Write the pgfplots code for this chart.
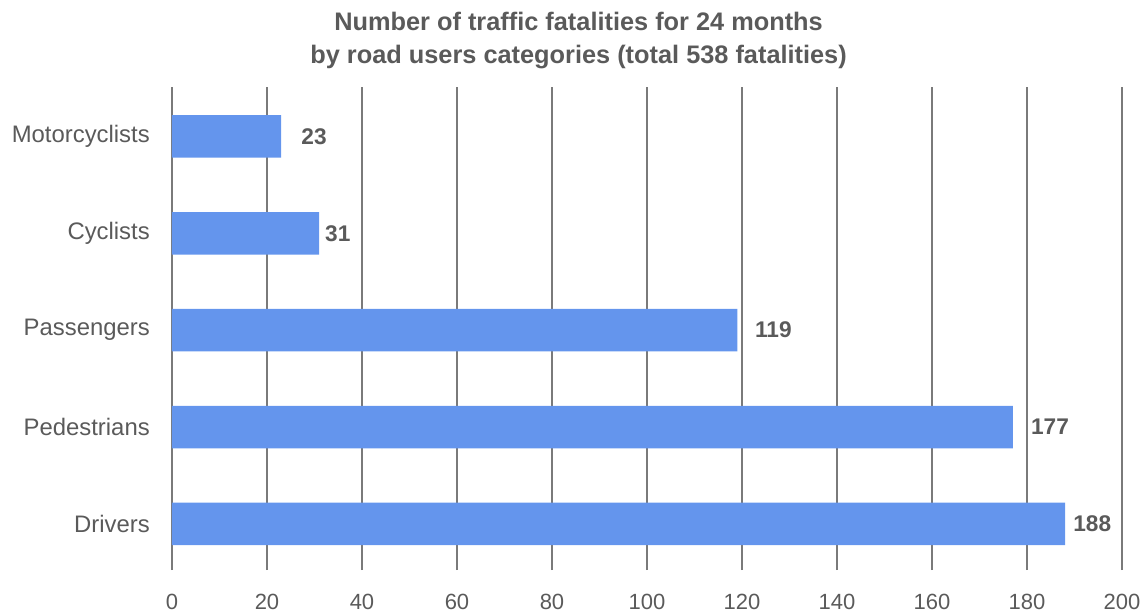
\documentclass[border=0pt]{standalone}
\usepackage{pgfplots}
\pgfplotsset{compat=1.18}
\usepackage{fontspec}
\setmainfont{Liberation Sans}
\definecolor{barblue}{HTML}{6495ED}
\definecolor{txt}{HTML}{5A5A5A}
\definecolor{gridc}{HTML}{7A7A7A}
\begin{document}
\begin{tikzpicture}
\begin{axis}[
  scale only axis,
  width=712.5pt, height=362.25pt,
  xmin=0, xmax=200,
  ymin=-0.475, ymax=4.51,
  xtick={0,20,...,200},
  ytick={0,1,2,3,4},
  yticklabels={Drivers,Pedestrians,Passengers,Cyclists,Motorcyclists},
  axis line style={draw=none},
  major tick length=0pt,
  xmajorgrids,
  grid style={gridc, line width=1.1pt},
  tick label style={font=\fontsize{16.5}{19}\selectfont, text=txt},
  /pgf/number format/assume math mode=true,
  yticklabel style={inner sep=0pt, anchor=east, xshift=-16.5pt, font=\fontsize{17.9}{20}\selectfont},
  xticklabel style={inner sep=0pt, anchor=north, yshift=-18pt},
  title={Number of traffic fatalities for 24 months\\by road users categories (total 538 fatalities)},
  title style={at={(rel axis cs:0.428,1)}, anchor=south, inner sep=0pt, yshift=7.5pt, align=center, text=txt,
    font=\bfseries\fontsize{19}{24.75}\selectfont},
  clip=false,
]
\addplot[xbar, bar width=31.9pt, fill=barblue, draw=none] coordinates {
  (188,0) (177,1) (119,2) (31,3) (23,4)
};
\addplot[only marks, mark=none, point meta=explicit symbolic,
  nodes near coords, nodes near coords align={anchor=west},
  every node near coord/.style={anchor=west, inner sep=0pt, text=txt, font=\bfseries\fontsize{17}{20}\selectfont}]
  coordinates {
  (189.7,0) [188] (180.8,1) [177] (122.7,2) [119] (32.2,3) [31] (27.2,4) [23]
};
\end{axis}
\pgfresetboundingbox
\path (-129pt,-33.75pt) rectangle (730.5pt,427.5pt);
\end{tikzpicture}
\end{document}
